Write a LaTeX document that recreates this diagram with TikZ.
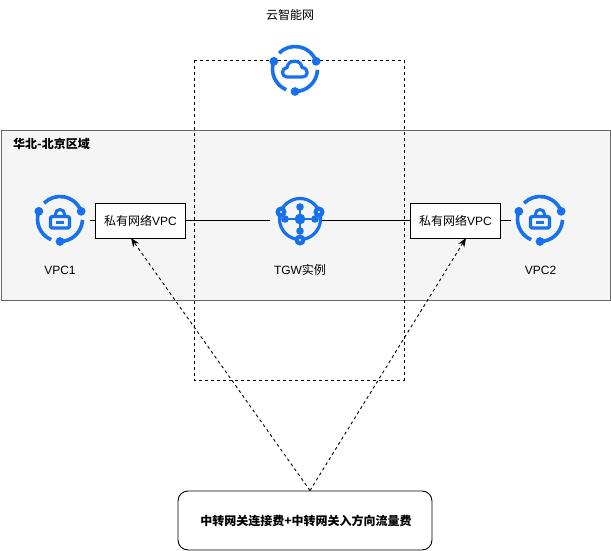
\documentclass[tikz,border=0pt]{standalone}
\usepackage{fontspec}
\setmainfont{Liberation Sans}
\newfontfamily\cjk{Noto Sans CJK SC}
\usetikzlibrary{positioning,arrows.meta}
\definecolor{iconblue}{HTML}{1670F0}
\tikzset{
  iconnode/.style={minimum size=60pt,inner sep=0pt,outer sep=0pt},
  vpcbox/.style={draw=black,fill=white,line width=0.9pt,minimum width=90pt,minimum height=35pt,inner sep=0pt,font=\fontsize{12pt}{14pt}\selectfont},
  caption/.style={inner sep=0pt,font=\fontsize{12pt}{14pt}\selectfont},
  link/.style={black,line width=0.9pt},
  costlink/.style={black,line width=0.9pt,dash pattern=on 3pt off 3pt,-{Stealth[length=9pt,width=7pt]}},
  ring/.style={iconblue,line width=3.6pt}
}
% ring of three arcs, each starting at a dot
\newcommand{\ringicon}[1]{
\draw[ring] ([shift={(-20:22.5)}]#1.center) arc[start angle=-20,end angle=-135,radius=22.5];
\draw[ring] ([shift={(-160:22.5)}]#1.center) arc[start angle=-160,end angle=-247,radius=22.5];
\draw[ring] ([shift={(90:22.5)}]#1.center) arc[start angle=90,end angle=2,radius=22.5];
\fill[iconblue] ([shift={(-20:22.5)}]#1.center) circle (4.4);
\fill[iconblue] ([shift={(-160:22.5)}]#1.center) circle (4.4);
\fill[iconblue] ([shift={(90:22.5)}]#1.center) circle (4.4);
}
\newcommand{\lockicon}[1]{
\draw[iconblue,line width=3.2pt,rounded corners=1.5pt] ([shift={(-9.5,-2.5)}]#1.center) rectangle ([shift={(9.5,9)}]#1.center);
\draw[iconblue,line width=3pt] ([shift={(-4.5,-3)}]#1.center) -- ([shift={(-4.5,-5)}]#1.center) arc[start angle=180,end angle=360,radius=4.5] -- ([shift={(4.5,-3)}]#1.center);
\draw[iconblue,line width=2.8pt] ([shift={(-4,3.5)}]#1.center) -- ([shift={(4,3.5)}]#1.center);
}
\begin{document}
\begin{tikzpicture}[x=1pt,y=-1pt]
\useasboundingbox (0,0) rectangle (611,551);
\draw[draw=black!60,fill=black!4,line width=0.9pt] (1,130) rectangle (610,300);
\draw[black,line width=0.9pt,dash pattern=on 3pt off 3pt] (194.5,60.5) rectangle (404,380);

\node[iconnode] (cloud) at (295,69) {};
\node[iconnode] (vpc1) at (60,219) {};
\node[iconnode] (tgw) at (300,219) {};
\node[iconnode] (vpc2) at (540,219) {};
\node[vpcbox] (box1) at (140.5,220.5) {{\cjk 私有网络}VPC};
\node[vpcbox] (box2) at (455.5,220.5) {{\cjk 私有网络}VPC};
\coordinate (tgwright) at (321,220.5);
\coordinate (vpc1right) at (90,220.5);
\coordinate (vpc2left) at (511,220.5);
\coordinate (tgwleft) at (270,220.5);

\draw[link] (vpc1right) -- (box1.west);
\draw[link] (box1.east) -- (tgwleft);
\draw[link] (tgwright) -- (box2.west);
\draw[link] (box2.east) -- (vpc2left);

\ringicon{cloud}
\draw[iconblue,line width=3.2pt,line join=round] (287,77) .. controls (281,77) and (281,68) .. (287,67.5) .. controls (288,59) and (301,59) .. (302,67.5) .. controls (309,68) and (309,77) .. (302,77) -- cycle;

\ringicon{vpc1}
\lockicon{vpc1}
\ringicon{vpc2}
\lockicon{vpc2}

% tgw
\draw[iconblue,line width=3.2pt] (tgw.center) circle (20.5);
\draw[iconblue,line width=2.8pt] (tgw.center) ++(0,-12) -- ++(0,24);
\draw[iconblue,line width=2.8pt] (tgw.center) ++(-15,0) -- ++(30,0);
\foreach \dx/\dy in {0/-12,0/12,-15/0,15/0} \fill[iconblue] (tgw.center) ++(\dx,\dy) circle (3.8);
\fill[iconblue] (tgw.center) circle (5.4);
\foreach \dx/\dy in {-19/-7,19/-7,0/21} {
  \fill[iconblue] (tgw.center) ++(\dx,\dy) circle (5.6);
  \fill[white] (tgw.center) ++(\dx,\dy) circle (1.2);
}

\node[caption] (cloudlabel) at (290,15) {\cjk 云智能网};
\node[caption] (vpc1label) at (60,270) {VPC1};
\node[caption] (tgwlabel) at (300,270) {TGW{\cjk 实例}};
\node[caption] (vpc2label) at (540.5,270) {VPC2};
\node[caption,anchor=west] (regionlabel) at (13,144) {\cjk\bfseries\fontsize{12pt}{14pt}\selectfont 华北-北京区域};

\node[draw=black,fill=white,line width=0.9pt,rounded corners=10pt,minimum width=254pt,minimum height=59pt,inner sep=0pt] (cost) at (305,520.5) {\cjk\bfseries\fontsize{12pt}{14pt}\selectfont\hspace{2pt}中转网关连接费+中转网关入方向流量费};

\draw[costlink] (cost.north) ++(5,0) coordinate (costtop) -- (131,238);
\draw[costlink] (costtop) -- (466,238);
\end{tikzpicture}
\end{document}
